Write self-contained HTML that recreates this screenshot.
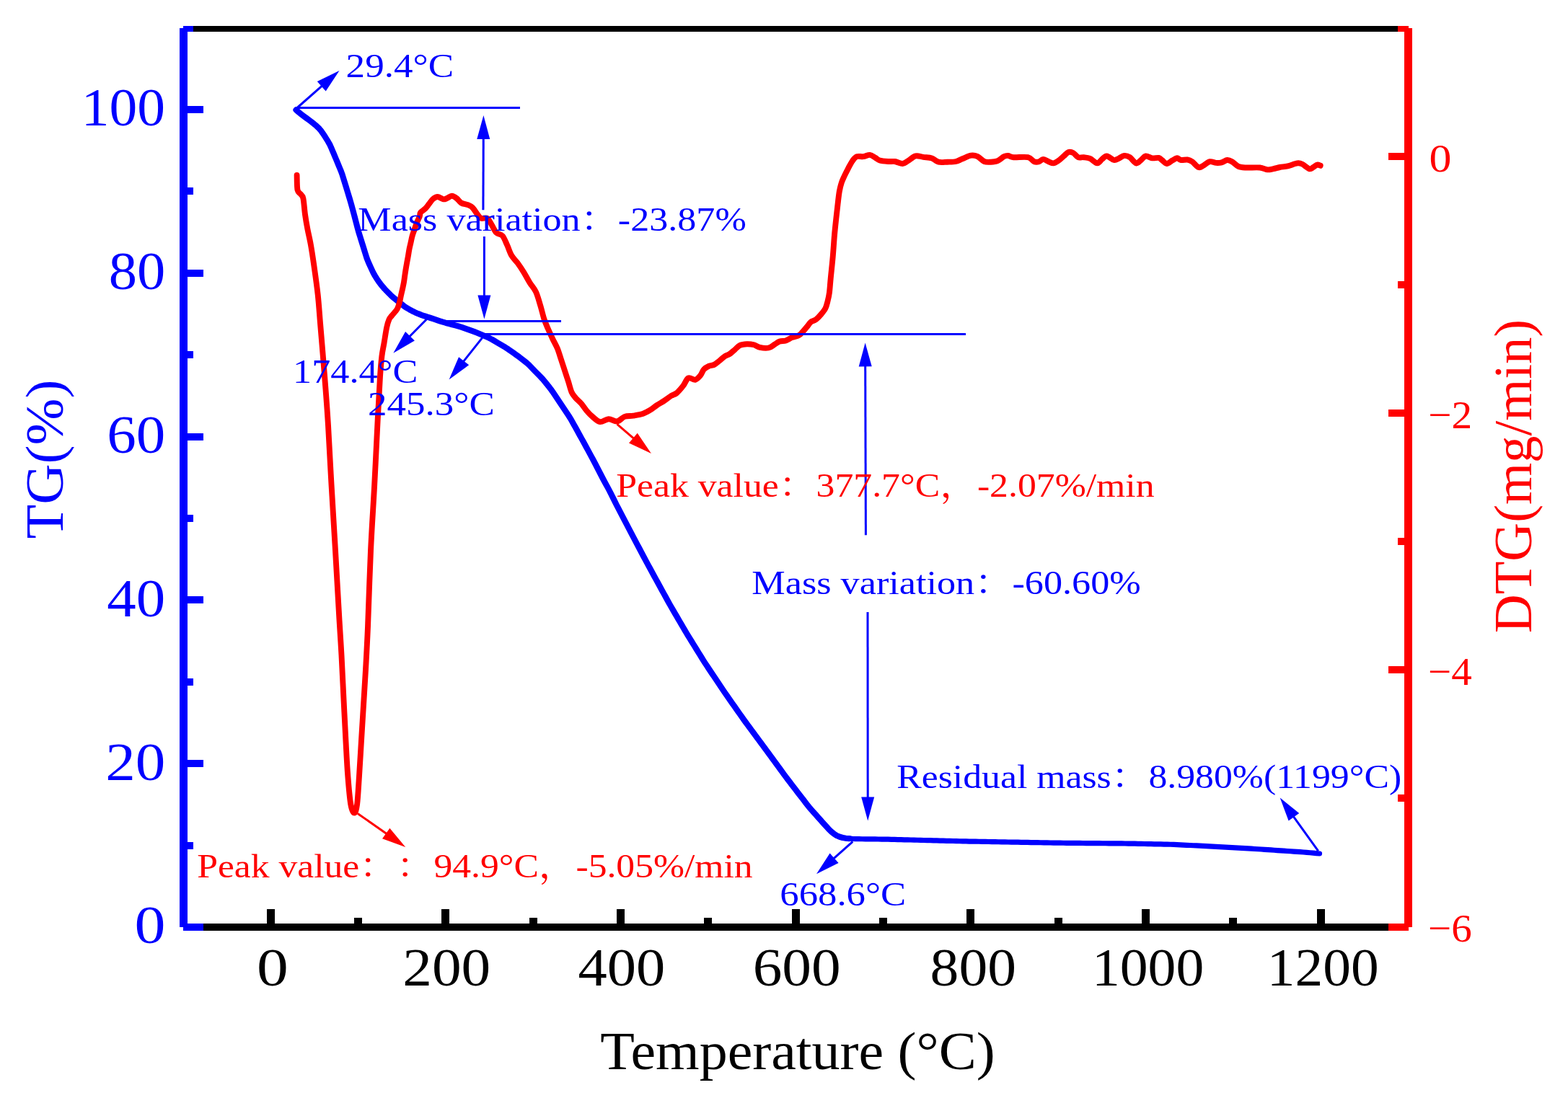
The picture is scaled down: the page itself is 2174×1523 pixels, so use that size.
<!DOCTYPE html>
<html lang="en"><head><meta charset="utf-8"><title>TG-DTG</title>
<style>
html,body{margin:0;padding:0;background:#ffffff;overflow:hidden;}
svg{display:block;text-spacing-trim:space-all;}
</style></head>
<body>
<svg width="2174" height="1523" viewBox="0 0 2174 1523">
<rect x="0" y="0" width="2174" height="1523" fill="#ffffff"/>
<g shape-rendering="crispEdges">
<rect x="249" y="39" width="11" height="1247" fill="#0000ff"/>
<rect x="1947" y="39" width="11" height="1247" fill="#ff0000"/>
<rect x="268" y="36" width="1670" height="8" fill="#000000"/>
<rect x="254" y="36" width="14" height="8" fill="#0000ff"/>
<rect x="1938" y="36" width="15" height="8" fill="#ff0000"/>
<rect x="282" y="1281" width="1643" height="10" fill="#000000"/>
<rect x="254" y="1281" width="28" height="10" fill="#0000ff"/>
<rect x="1925" y="1281" width="28" height="10" fill="#ff0000"/>
<rect x="370" y="1261" width="11" height="20" fill="#000000"/>
<rect x="491" y="1273" width="11" height="8" fill="#000000"/>
<rect x="612" y="1261" width="11" height="20" fill="#000000"/>
<rect x="734" y="1273" width="11" height="8" fill="#000000"/>
<rect x="855" y="1261" width="11" height="20" fill="#000000"/>
<rect x="976" y="1273" width="11" height="8" fill="#000000"/>
<rect x="1098" y="1261" width="11" height="20" fill="#000000"/>
<rect x="1219" y="1273" width="11" height="8" fill="#000000"/>
<rect x="1340" y="1261" width="11" height="20" fill="#000000"/>
<rect x="1462" y="1273" width="11" height="8" fill="#000000"/>
<rect x="1583" y="1261" width="11" height="20" fill="#000000"/>
<rect x="1704" y="1273" width="11" height="8" fill="#000000"/>
<rect x="1826" y="1261" width="11" height="20" fill="#000000"/>
<rect x="260" y="1168" width="8" height="10" fill="#0000ff"/>
<rect x="260" y="1054" width="22" height="10" fill="#0000ff"/>
<rect x="260" y="941" width="8" height="10" fill="#0000ff"/>
<rect x="260" y="827" width="22" height="10" fill="#0000ff"/>
<rect x="260" y="714" width="8" height="10" fill="#0000ff"/>
<rect x="260" y="601" width="22" height="10" fill="#0000ff"/>
<rect x="260" y="487" width="8" height="10" fill="#0000ff"/>
<rect x="260" y="374" width="22" height="10" fill="#0000ff"/>
<rect x="260" y="260" width="8" height="10" fill="#0000ff"/>
<rect x="260" y="147" width="22" height="10" fill="#0000ff"/>
<rect x="1925" y="212" width="22" height="10" fill="#ff0000"/>
<rect x="1938" y="390" width="9" height="10" fill="#ff0000"/>
<rect x="1925" y="568" width="22" height="10" fill="#ff0000"/>
<rect x="1938" y="746" width="9" height="10" fill="#ff0000"/>
<rect x="1925" y="924" width="22" height="10" fill="#ff0000"/>
<rect x="1938" y="1102" width="9" height="10" fill="#ff0000"/>
</g>
<path d="M1168.45,1162 L1172.86,1162.72 L1177.34,1163.11 L1181.83,1163.43 L1186.32,1163.61 L1190.82,1163.68 L1195.32,1163.74 L1199.82,1163.79 L1204.32,1163.84 L1208.82,1163.89 L1213.32,1163.94 L1217.83,1164 L1222.33,1164.05 L1226.83,1164.12 L1231.33,1164.21 L1235.83,1164.33 L1240.33,1164.44 L1244.83,1164.56 L1249.33,1164.67 L1253.83,1164.79 L1258.32,1164.9 L1262.82,1165.02 L1267.32,1165.13 L1271.82,1165.25 L1276.32,1165.36 L1280.82,1165.48 L1285.32,1165.59 L1289.82,1165.71 L1294.32,1165.82 L1298.82,1165.94 L1303.32,1166.05 L1307.82,1166.17 L1312.32,1166.28 L1316.82,1166.4 L1321.32,1166.51 L1325.82,1166.63 L1330.32,1166.74 L1334.82,1166.86 L1339.32,1166.95 L1343.82,1167.03 L1348.32,1167.11 L1352.82,1167.19 L1357.32,1167.27 L1361.82,1167.35 L1366.32,1167.43 L1370.82,1167.51 L1375.32,1167.59 L1379.82,1167.66 L1384.32,1167.74 L1388.82,1167.82 L1393.33,1167.9 L1397.83,1167.98 L1402.33,1168.06 L1406.83,1168.14 L1411.33,1168.22 L1415.83,1168.3 L1420.33,1168.38 L1424.83,1168.46 L1429.33,1168.53 L1433.83,1168.61 L1438.33,1168.69 L1442.83,1168.77 L1447.33,1168.85 L1451.83,1168.93 L1456.33,1169.01 L1460.83,1169.08 L1465.33,1169.14 L1469.83,1169.19 L1474.34,1169.23 L1478.84,1169.28 L1483.34,1169.33 L1487.84,1169.37 L1492.34,1169.42 L1496.84,1169.47 L1501.34,1169.51 L1505.84,1169.55 L1510.34,1169.58 L1514.84,1169.62 L1519.34,1169.65 L1523.85,1169.69 L1528.35,1169.73 L1532.85,1169.76 L1537.35,1169.8 L1541.85,1169.83 L1546.35,1169.87 L1550.85,1169.91 L1555.35,1169.94 L1559.85,1169.98 L1564.35,1170.04 L1568.85,1170.13 L1573.36,1170.22 L1577.86,1170.32 L1582.36,1170.41 L1586.86,1170.5 L1591.36,1170.6 L1595.86,1170.69 L1600.36,1170.79 L1604.86,1170.88 L1609.36,1170.97 L1613.86,1171.07 L1618.36,1171.16 L1622.86,1171.26 L1627.35,1171.42 L1631.85,1171.63 L1636.35,1171.86 L1640.84,1172.08 L1645.34,1172.3 L1649.83,1172.52 L1654.33,1172.75 L1658.82,1172.97 L1663.32,1173.19 L1667.82,1173.42 L1672.31,1173.64 L1676.81,1173.86 L1681.3,1174.08 L1685.8,1174.31 L1690.29,1174.56 L1694.79,1174.82 L1699.28,1175.09 L1703.77,1175.35 L1708.27,1175.62 L1712.76,1175.88 L1717.25,1176.15 L1721.75,1176.42 L1726.24,1176.68 L1730.73,1176.95 L1735.23,1177.21 L1739.72,1177.48 L1744.21,1177.75 L1748.71,1178.02 L1753.2,1178.31 L1757.69,1178.61 L1762.18,1178.92 L1766.67,1179.23 L1771.16,1179.54 L1775.65,1179.85 L1780.14,1180.16 L1784.63,1180.47 L1789.12,1180.77 L1793.61,1181.08 L1798.1,1181.39 L1802.59,1181.7 L1807.08,1182.01 L1811.57,1182.33 L1816.06,1182.72 L1820.54,1183.14 L1825.02,1183.57 L1829.5,1184" fill="none" stroke="#0000ff" stroke-width="7.2" stroke-linejoin="round" stroke-linecap="round"/>
<path d="M410.5,152.4 L413.86,155.39 L417.36,158.21 L420.95,160.93 L424.55,163.62 L428.17,166.3 L431.78,168.99 L435.32,171.77 L438.75,174.67 L442,177.78 L444.92,181.17 L447.51,184.84 L450,188.58 L452.42,192.38 L454.78,196.21 L457.02,200.1 L458.91,204.17 L460.66,208.32 L462.41,212.46 L464.17,216.61 L465.91,220.76 L467.65,224.91 L469.38,229.07 L471.1,233.22 L472.8,237.39 L474.35,241.61 L475.71,245.9 L477.04,250.2 L478.36,254.5 L479.68,258.81 L480.99,263.12 L482.29,267.42 L483.6,271.73 L484.9,276.04 L486.17,280.36 L487.38,284.69 L488.56,289.04 L489.74,293.38 L490.91,297.73 L492.06,302.08 L493.19,306.44 L494.31,310.79 L495.45,315.15 L496.62,319.5 L497.89,323.81 L499.23,328.11 L500.57,332.41 L501.9,336.7 L503.24,341 L504.56,345.31 L505.89,349.61 L507.22,353.91 L508.6,358.19 L510.23,362.38 L512.05,366.49 L513.92,370.58 L515.78,374.68 L517.72,378.73 L519.93,382.64 L522.33,386.45 L524.81,390.2 L527.49,393.81 L530.33,397.3 L533.27,400.7 L536.36,403.97 L539.5,407.19 L542.71,410.34 L546.1,413.29 L549.59,416.14 L553.09,418.96 L556.61,421.78 L560.17,424.52 L563.88,427.06 L567.76,429.33 L571.72,431.46 L575.76,433.43 L579.9,435.18 L584.09,436.82 L588.35,438.28 L592.64,439.63 L596.94,440.96 L601.22,442.35 L605.48,443.8 L609.73,445.27 L614.01,446.68 L618.33,447.93 L622.68,449.06 L627.04,450.2 L631.39,451.35 L635.73,452.54 L640.05,453.81 L644.31,455.26 L648.54,456.77 L652.78,458.3 L657.01,459.85 L661.19,461.5 L665.34,463.25 L669.48,465.01 L673.62,466.78 L677.74,468.59 L681.75,470.61 L685.64,472.86 L689.51,475.16 L693.38,477.47 L697.24,479.77 L701.09,482.1 L704.86,484.55 L708.56,487.12 L712.23,489.72 L715.91,492.32 L719.56,494.95 L723.14,497.67 L726.69,500.44 L730.2,503.25 L733.54,506.26 L736.64,509.5 L739.73,512.78 L742.87,516 L746.04,519.19 L749.21,522.39 L752.3,525.66 L755.21,529.09 L758.04,532.59 L760.86,536.1 L763.61,539.65 L766.2,543.33 L768.71,547.07 L771.21,550.81 L773.7,554.56 L776.2,558.3 L778.7,562.05 L781.2,565.79 L783.7,569.53 L786.2,573.27 L788.69,577.02 L791.09,580.83 L793.32,584.73 L795.51,588.67 L797.69,592.6 L799.88,596.54 L802.06,600.48 L804.23,604.42 L806.4,608.36 L808.57,612.31 L810.74,616.25 L812.9,620.2 L815.04,624.16 L817.18,628.12 L819.32,632.08 L821.46,636.04 L823.58,640.01 L825.66,644 L827.72,648 L829.79,652 L831.85,656 L833.91,660 L835.98,664 L838.1,667.97 L840.26,671.92 L842.42,675.87 L844.55,679.83 L846.6,683.84 L848.6,687.87 L850.59,691.91 L852.59,695.94 L854.61,699.97 L856.67,703.97 L858.74,707.96 L860.82,711.96 L862.89,715.95 L864.97,719.94 L867.06,723.93 L869.16,727.91 L871.25,731.9 L873.34,735.88 L875.43,739.87 L877.53,743.85 L879.63,747.83 L881.73,751.81 L883.83,755.8 L885.93,759.78 L888.03,763.76 L890.13,767.74 L892.23,771.72 L894.33,775.7 L896.45,779.68 L898.59,783.63 L900.75,787.58 L902.91,791.53 L905.06,795.48 L907.22,799.43 L909.38,803.38 L911.54,807.33 L913.71,811.28 L915.87,815.22 L918.04,819.17 L920.21,823.11 L922.38,827.06 L924.55,831 L926.72,834.94 L928.9,838.88 L931.14,842.79 L933.4,846.67 L935.68,850.56 L937.95,854.44 L940.22,858.33 L942.5,862.22 L944.77,866.1 L947.04,869.99 L949.31,873.87 L951.59,877.75 L953.91,881.61 L956.27,885.44 L958.65,889.27 L961.02,893.09 L963.39,896.92 L965.76,900.74 L968.13,904.57 L970.5,908.39 L972.88,912.22 L975.25,916.04 L977.65,919.85 L980.12,923.62 L982.61,927.36 L985.11,931.11 L987.61,934.85 L990.11,938.59 L992.61,942.34 L995.11,946.08 L997.61,949.82 L1000.11,953.57 L1002.61,957.31 L1005.14,961.03 L1007.72,964.72 L1010.3,968.4 L1012.89,972.09 L1015.48,975.77 L1018.07,979.45 L1020.65,983.14 L1023.24,986.82 L1025.83,990.5 L1028.42,994.19 L1031.01,997.87 L1033.64,1001.52 L1036.31,1005.14 L1038.98,1008.76 L1041.66,1012.38 L1044.34,1016 L1047.02,1019.62 L1049.69,1023.24 L1052.37,1026.85 L1055.05,1030.47 L1057.73,1034.09 L1060.4,1037.71 L1063.07,1041.33 L1065.73,1044.97 L1068.38,1048.6 L1071.03,1052.24 L1073.69,1055.87 L1076.34,1059.51 L1079,1063.15 L1081.65,1066.78 L1084.3,1070.42 L1086.96,1074.05 L1089.62,1077.68 L1092.31,1081.29 L1095.05,1084.86 L1097.79,1088.43 L1100.54,1092 L1103.28,1095.56 L1106.03,1099.13 L1108.78,1102.7 L1111.52,1106.26 L1114.27,1109.83 L1117.02,1113.4 L1119.77,1116.96 L1122.59,1120.46 L1125.54,1123.85 L1128.54,1127.22 L1131.53,1130.57 L1134.53,1133.93 L1137.53,1137.29 L1140.52,1140.65 L1143.52,1144.01 L1146.53,1147.35 L1149.57,1150.67 L1152.79,1153.79 L1156.3,1156.58 L1160.05,1158.99 L1164.15,1160.73 L1168.45,1162 L1172.86,1162.72 L1177.34,1163.11" fill="none" stroke="#0000ff" stroke-width="8.2" stroke-linejoin="round" stroke-linecap="round"/>
<path d="M411.6,243 C411.75,246.4 411.6,259 412.5,263.4 C413.4,267.8 415.68,267.42 417,269.4 C418.32,271.38 419.4,270.6 420.4,275.3 C421.4,280 422.02,290.6 423,297.6 C423.98,304.6 424.98,310.3 426.3,317.3 C427.62,324.3 429.37,330.92 430.9,339.6 C432.43,348.28 433.87,357.87 435.5,369.4 C437.13,380.93 439.28,395.67 440.7,408.8 C442.12,421.93 442.9,435.07 444,448.2 C445.1,461.33 446.05,472.3 447.3,487.6 C448.55,502.9 450.22,522.93 451.5,540 C452.78,557.07 453.67,568 455,590 C456.33,612 457.83,643 459.5,672 C461.17,701 463.17,732.67 465,764 C466.83,795.33 469.08,835.83 470.5,860 C471.92,884.17 472.52,891 473.5,909 C474.48,927 475.42,948.33 476.4,968 C477.38,987.67 478.42,1008.93 479.4,1027 C480.38,1045.07 481.15,1061.6 482.3,1076.4 C483.45,1091.2 484.82,1107.27 486.3,1115.8 C487.78,1124.33 489.73,1127.6 491.2,1127.6 C492.67,1127.6 493.97,1124.33 495.1,1115.8 C496.23,1107.27 497.02,1091.2 498,1076.4 C498.98,1061.6 500,1043.4 501,1027 C502,1010.6 503,994.37 504,978 C505,961.63 506,946.85 507,928.8 C508,910.75 508.83,897.17 510,869.7 C511.17,842.23 512.47,796.95 514,764 C515.53,731.05 517.57,702.67 519.2,672 C520.83,641.33 522.5,605 523.8,580 C525.1,555 526.07,536.33 527,522 C527.93,507.67 528.48,501.67 529.4,494 C530.32,486.33 531.37,482.67 532.5,476 C533.63,469.33 535.03,459.5 536.2,454 C537.37,448.5 538.32,445.7 539.5,443 C540.68,440.3 541.43,440.2 543.3,437.8 C545.17,435.4 548.93,431.67 550.7,428.6 C552.47,425.53 553.03,422.47 553.9,419.4 C554.77,416.33 555.22,413.27 555.9,410.2 C556.58,407.13 557.33,404.05 558,401 C558.67,397.95 559.37,394.95 559.9,391.9 C560.43,388.85 560.75,385.77 561.2,382.7 C561.65,379.63 562.1,376.57 562.6,373.5 C563.1,370.43 563.65,367.37 564.2,364.3 C564.75,361.23 565.37,358.17 565.9,355.1 C566.43,352.03 566.8,348.97 567.4,345.9 C568,342.83 568.82,339.75 569.5,336.7 C570.18,333.65 570.65,330.65 571.5,327.6 C572.35,324.55 573.55,321.47 574.6,318.4 C575.65,315.33 576.58,312.27 577.8,309.2 C579.02,306.13 581.03,302.42 581.9,300 C582.77,297.58 581.72,296.47 583,294.7 C584.28,292.93 587.62,291.38 589.6,289.4 C591.58,287.42 593.15,284.98 594.9,282.8 C596.65,280.62 598.13,277.93 600.1,276.3 C602.07,274.67 604.28,273 606.7,273 C609.12,273 612.42,275.97 614.6,276.3 C616.78,276.63 617.83,275.77 619.8,275 C621.77,274.23 624.2,271.7 626.4,271.7 C628.6,271.7 630.82,273.37 633,275 C635.18,276.63 636.88,279.97 639.5,281.5 C642.12,283.03 646.07,283.1 648.7,284.2 C651.33,285.3 653.1,285.92 655.3,288.1 C657.5,290.28 659.92,294.85 661.9,297.3 C663.88,299.75 664.92,301.88 667.2,302.8 C669.48,303.72 673.13,301.22 675.6,302.8 C678.07,304.38 679.9,308.97 682,312.3 C684.1,315.63 685.77,320.35 688.2,322.8 C690.63,325.25 694.13,324.2 696.6,327 C699.07,329.8 700.9,335.05 703,339.6 C705.1,344.15 706.77,350.1 709.2,354.3 C711.63,358.5 714.8,360.95 717.6,364.8 C720.4,368.65 723.18,372.85 726,377.4 C728.82,381.95 731.68,387.55 734.5,392.1 C737.32,396.65 740.45,399.45 742.9,404.7 C745.35,409.95 747.28,417.3 749.2,423.6 C751.12,429.9 752.65,437.13 754.4,442.5 C756.15,447.87 757.72,451.18 759.7,455.8 C761.68,460.42 764.12,465.62 766.3,470.2 C768.48,474.78 770.83,478.48 772.8,483.3 C774.77,488.12 776.35,493.83 778.1,499.1 C779.85,504.37 781.65,509.87 783.3,514.9 C784.95,519.93 786.47,524.48 788,529.3 C789.53,534.12 790.87,540.08 792.5,543.8 C794.13,547.52 795.6,548.98 797.8,551.6 C800,554.22 803.07,556.43 805.7,559.5 C808.33,562.57 810.98,566.93 813.6,570 C816.22,573.07 818.35,575.38 821.4,577.9 C824.45,580.42 828.17,584.55 831.9,585.1 C835.63,585.65 839.85,581.3 843.8,581.2 C847.75,581.1 851.88,585.05 855.6,584.5 C859.32,583.95 862.38,579.22 866.1,577.9 C869.82,576.58 873.75,577.25 877.9,576.6 C882.05,575.95 887.05,575.32 891,574 C894.95,572.68 898.32,570.68 901.6,568.7 C904.88,566.72 907.42,564.28 910.7,562.1 C913.98,559.92 918,557.78 921.3,555.6 C924.6,553.42 927.67,550.75 930.5,549 C933.33,547.25 935.52,547.4 938.3,545.1 C941.08,542.8 944.52,538.65 947.2,535.2 C949.88,531.75 951.62,525.8 954.4,524.4 C957.18,523 961.12,527.4 963.9,526.8 C966.68,526.2 969.1,523.2 971.1,520.8 C973.1,518.4 973.9,514.58 975.9,512.4 C977.9,510.22 980.72,508.78 983.1,507.7 C985.48,506.62 987.82,507.1 990.2,505.9 C992.58,504.7 995,502.4 997.4,500.5 C999.8,498.6 1002.2,496.1 1004.6,494.5 C1007,492.9 1009.42,492.5 1011.8,490.9 C1014.18,489.3 1016.52,486.9 1018.9,484.9 C1021.28,482.9 1023.3,480.18 1026.1,478.9 C1028.9,477.62 1032.5,477.3 1035.7,477.2 C1038.9,477.1 1042.32,477.52 1045.3,478.3 C1048.28,479.08 1050.22,481.2 1053.6,481.9 C1056.98,482.6 1062.2,483.18 1065.6,482.5 C1069,481.82 1071.42,479.28 1074,477.8 C1076.58,476.32 1078.52,474.5 1081.1,473.6 C1083.68,472.7 1086.7,473.3 1089.5,472.4 C1092.3,471.5 1094.92,469.4 1097.9,468.2 C1100.88,467 1105.02,466.4 1107.4,465.2 C1109.78,464 1110.2,463.1 1112.2,461 C1114.2,458.9 1117.4,455 1119.4,452.6 C1121.4,450.2 1122.2,448.18 1124.2,446.6 C1126.2,445.02 1129.02,444.88 1131.4,443.1 C1133.78,441.32 1136.32,438.5 1138.5,435.9 C1140.68,433.3 1143,430.5 1144.5,427.5 C1146,424.5 1146.6,421.48 1147.5,417.9 C1148.4,414.32 1149.2,411.27 1149.9,406 C1150.6,400.73 1150.9,394.62 1151.7,386.3 C1152.5,377.98 1153.82,366.17 1154.7,356.1 C1155.58,346.03 1156.23,334.72 1157,325.9 C1157.77,317.08 1158.55,310.25 1159.3,303.2 C1160.05,296.15 1160.75,289.88 1161.5,283.6 C1162.25,277.32 1162.92,270.53 1163.8,265.5 C1164.68,260.47 1165.67,256.92 1166.8,253.4 C1167.93,249.88 1169.08,247.67 1170.6,244.4 C1172.12,241.13 1174.02,237.33 1175.9,233.8 C1177.78,230.27 1179.9,225.97 1181.9,223.2 C1183.9,220.43 1185.38,218.2 1187.9,217.2 C1190.42,216.2 1193.97,217.58 1197,217.2 C1200.03,216.82 1203.33,214.65 1206.1,214.9 C1208.87,215.15 1211.33,217.43 1213.6,218.7 C1215.87,219.97 1216.68,221.62 1219.7,222.5 C1222.72,223.38 1228.18,223.75 1231.7,224 C1235.22,224.25 1237.52,223.5 1240.8,224 C1244.08,224.5 1248.38,227.13 1251.4,227 C1254.42,226.87 1255.88,224.97 1258.9,223.2 C1261.92,221.43 1265.98,217.28 1269.5,216.4 C1273.02,215.52 1276.23,217.4 1280,217.9 C1283.77,218.4 1288.57,218.27 1292.1,219.4 C1295.63,220.53 1297.67,223.82 1301.2,224.7 C1304.73,225.58 1309.28,224.82 1313.3,224.7 C1317.32,224.58 1321.78,224.75 1325.3,224 C1328.82,223.25 1330.87,221.58 1334.4,220.2 C1337.93,218.82 1342.98,216.2 1346.5,215.7 C1350.02,215.2 1352.48,215.82 1355.5,217.2 C1358.52,218.58 1361.57,222.75 1364.6,224 C1367.63,225.25 1370.6,224.85 1373.7,224.7 C1376.8,224.55 1380.13,224.38 1383.2,223.1 C1386.27,221.82 1389.7,218.2 1392.1,217 C1394.5,215.8 1395.4,215.7 1397.6,215.9 C1399.8,216.1 1400.7,217.82 1405.3,218.2 C1409.9,218.58 1420.42,217.2 1425.2,218.2 C1429.98,219.2 1431.42,223.2 1434,224.2 C1436.58,225.2 1438.67,224.75 1440.7,224.2 C1442.73,223.65 1444,220.9 1446.2,220.9 C1448.4,220.9 1451.52,223.28 1453.9,224.2 C1456.28,225.12 1458.28,226.58 1460.5,226.4 C1462.72,226.22 1464.8,224.75 1467.2,223.1 C1469.6,221.45 1472.52,218.52 1474.9,216.5 C1477.28,214.48 1479.3,211.73 1481.5,211 C1483.7,210.27 1485.88,210.9 1488.1,212.1 C1490.32,213.3 1492.4,217.18 1494.8,218.2 C1497.2,219.22 1499.75,217.93 1502.5,218.2 C1505.25,218.47 1508.18,218.43 1511.3,219.8 C1514.42,221.17 1518.43,226.22 1521.2,226.4 C1523.97,226.58 1525.68,222.55 1527.9,220.9 C1530.12,219.25 1531.75,216.32 1534.5,216.5 C1537.25,216.68 1541.63,221.45 1544.4,222 C1547.17,222.55 1548.7,220.82 1551.1,219.8 C1553.5,218.78 1556.23,216.17 1558.8,215.9 C1561.37,215.63 1563.75,216.45 1566.5,218.2 C1569.25,219.95 1572.72,225.77 1575.3,226.4 C1577.88,227.03 1579.78,223.65 1582,222 C1584.22,220.35 1586.03,216.95 1588.6,216.5 C1591.17,216.05 1594.4,218.9 1597.4,219.3 C1600.4,219.7 1604.33,218.45 1606.6,218.9 C1608.87,219.35 1609.15,220.65 1611,222 C1612.85,223.35 1615.3,226.9 1617.7,227 C1620.1,227.1 1623.02,223.88 1625.4,222.6 C1627.78,221.32 1629.98,219.4 1632,219.3 C1634.02,219.2 1635.1,221.63 1637.5,222 C1639.9,222.37 1643.82,221.13 1646.4,221.5 C1648.98,221.87 1650.43,222.45 1653,224.2 C1655.57,225.95 1659.23,231.08 1661.8,232 C1664.37,232.92 1665.82,231 1668.4,229.7 C1670.98,228.4 1674.35,224.83 1677.3,224.2 C1680.25,223.57 1683.35,225.72 1686.1,225.9 C1688.85,226.08 1691.22,225.95 1693.8,225.3 C1696.38,224.65 1699.2,222.18 1701.6,222 C1704,221.82 1705.63,222.73 1708.2,224.2 C1710.77,225.67 1713.87,229.42 1717,230.8 C1720.13,232.18 1722.03,232.22 1727,232.5 C1731.97,232.78 1741.83,232.03 1746.8,232.5 C1751.77,232.97 1753.67,235.02 1756.8,235.3 C1759.93,235.58 1762.67,234.75 1765.6,234.2 C1768.53,233.65 1771.08,232.65 1774.4,232 C1777.72,231.35 1781.45,231.23 1785.5,230.3 C1789.55,229.37 1795.4,226.87 1798.7,226.4 C1802,225.93 1802.53,226.2 1805.3,227.5 C1808.07,228.8 1812.72,233.45 1815.3,234.2 C1817.88,234.95 1818.97,232.93 1820.8,232 C1822.63,231.07 1824.65,228.98 1826.3,228.6 C1827.95,228.22 1829.97,229.52 1830.7,229.7" fill="none" stroke="#ff0000" stroke-width="7.9" stroke-linejoin="round" stroke-linecap="round"/>
<g>
<line x1="412" y1="149.5" x2="721" y2="149.5" stroke="#0000ff" stroke-width="3"/>
<line x1="612" y1="445.4" x2="778" y2="445.4" stroke="#0000ff" stroke-width="3"/>
<line x1="671" y1="463.5" x2="1339" y2="463.5" stroke="#0000ff" stroke-width="3"/>
<line x1="412" y1="149.5" x2="448.73" y2="117.16" stroke="#0000ff" stroke-width="3"/>
<polygon points="470.5,98 451.68,126.56 439.78,113.05" fill="#0000ff"/>
<line x1="669.9" y1="291.3" x2="670.29" y2="189" stroke="#0000ff" stroke-width="3"/>
<polygon points="670.4,160 679.27,193.03 661.27,192.97" fill="#0000ff"/>
<line x1="671.4" y1="328" x2="671.4" y2="413.5" stroke="#0000ff" stroke-width="3"/>
<polygon points="671.4,442.5 662.4,409.5 680.4,409.5" fill="#0000ff"/>
<line x1="592.3" y1="442" x2="565.65" y2="469.04" stroke="#0000ff" stroke-width="3"/>
<polygon points="545.3,489.7 562.05,459.88 574.87,472.51" fill="#0000ff"/>
<line x1="668.6" y1="468.6" x2="640.62" y2="503.88" stroke="#0000ff" stroke-width="3"/>
<polygon points="622.6,526.6 636.05,495.15 650.16,506.34" fill="#0000ff"/>
<line x1="1200.4" y1="742.3" x2="1199.69" y2="504.4" stroke="#0000ff" stroke-width="3"/>
<polygon points="1199.6,475.4 1208.7,508.37 1190.7,508.43" fill="#0000ff"/>
<line x1="1203" y1="849" x2="1203.18" y2="1109.6" stroke="#0000ff" stroke-width="3"/>
<polygon points="1203.2,1138.6 1194.18,1105.61 1212.18,1105.59" fill="#0000ff"/>
<line x1="1182.3" y1="1167.3" x2="1153.61" y2="1192.96" stroke="#0000ff" stroke-width="3"/>
<polygon points="1132,1212.3 1150.59,1183.59 1162.6,1197" fill="#0000ff"/>
<line x1="1827.7" y1="1180.4" x2="1791.6" y2="1130.07" stroke="#0000ff" stroke-width="3"/>
<polygon points="1774.7,1106.5 1801.25,1128.07 1786.62,1138.56" fill="#0000ff"/>
<line x1="496" y1="1128.4" x2="538.49" y2="1158.31" stroke="#ff0000" stroke-width="3"/>
<polygon points="562.2,1175 530.03,1163.36 540.4,1148.65" fill="#ff0000"/>
<line x1="855.6" y1="588.4" x2="880.92" y2="610.18" stroke="#ff0000" stroke-width="3"/>
<polygon points="902.9,629.1 872.02,614.4 883.76,600.75" fill="#ff0000"/>
</g>
<g font-family='"Liberation Serif", "Noto Serif CJK SC", serif'>
<text transform="translate(112.82,174.3) scale(1.0461,1)" font-size="74.1" fill="#0000ff">100</text>
<text transform="translate(150.66,401.1) scale(1.0591,1)" font-size="74.1" fill="#0000ff">80</text>
<text transform="translate(148.15,627.9) scale(1.0944,1)" font-size="74.1" fill="#0000ff">60</text>
<text transform="translate(148.28,854.7) scale(1.0925,1)" font-size="74.1" fill="#0000ff">40</text>
<text transform="translate(146.16,1081.5) scale(1.1224,1)" font-size="74.1" fill="#0000ff">20</text>
<text transform="translate(186.56,1308.3) scale(1.1600,1)" font-size="74.1" fill="#0000ff">0</text>
<text transform="translate(356,1367.2) scale(1.1714,1)" font-size="74.8" fill="#000000">0</text>
<text transform="translate(558.24,1367.2) scale(1.0875,1)" font-size="74.8" fill="#000000">200</text>
<text transform="translate(801.39,1367.2) scale(1.0769,1)" font-size="74.8" fill="#000000">400</text>
<text transform="translate(1043.64,1367.2) scale(1.0875,1)" font-size="74.8" fill="#000000">600</text>
<text transform="translate(1289.62,1367.2) scale(1.0639,1)" font-size="74.8" fill="#000000">800</text>
<text transform="translate(1513.91,1367.2) scale(1.0388,1)" font-size="74.8" fill="#000000">1000</text>
<text transform="translate(1756.73,1367.2) scale(1.0359,1)" font-size="74.8" fill="#000000">1200</text>
<text transform="translate(1981.52,238) scale(1.1359,1)" font-size="54.5" fill="#ff0000">0</text>
<text transform="translate(1980.14,594) scale(1.0512,1)" font-size="54.5" fill="#ff0000">−2</text>
<text transform="translate(1980.05,950) scale(1.0477,1)" font-size="54.5" fill="#ff0000">−4</text>
<text transform="translate(1980.05,1306) scale(1.0469,1)" font-size="54.5" fill="#ff0000">−6</text>
<text transform="translate(832.34,1482.9) scale(1.0636,1)" font-size="73.3" fill="#000000">Temperature (°C)</text>
<text transform="translate(87,747.56) rotate(-90) scale(1.0639,1)" font-size="73.4" fill="#0000ff">TG(%)</text>
<text transform="translate(2123.1,878.24) rotate(-90) scale(1.0171,1)" font-size="73.4" fill="#ff0000">DTG(mg/min)</text>
<text transform="translate(479.61,106.9) scale(1.1229,1)" font-size="47.3" fill="#0000ff">29.4°C</text>
<text transform="translate(406.1,531) scale(1.1038,1)" font-size="47.3" fill="#0000ff">174.4°C</text>
<text transform="translate(510.11,576) scale(1.1205,1)" font-size="47.3" fill="#0000ff">245.3°C</text>
<text transform="translate(1081.33,1256.3) scale(1.1146,1)" font-size="47.3" fill="#0000ff">668.6°C</text>
<text transform="translate(496.34,319.9) scale(1.1021,1)" font-size="47.3" fill="#0000ff">Mass variation：-23.87%</text>
<text transform="translate(1042.33,824) scale(1.1041,1)" font-size="47.3" fill="#0000ff">Mass variation：-60.60%</text>
<text transform="translate(1243.25,1092.8) scale(1.0939,1)" font-size="47.3" fill="#0000ff">Residual mass：8.980%(1199°C)</text>
<text transform="translate(854.25,688.9) scale(1.0941,1)" font-size="47.3" fill="#ff0000">Peak value：377.7°C，-2.07%/min</text>
<text transform="translate(273.25,1216.9) scale(1.0913,1)" font-size="47.3" fill="#ff0000">Peak value：：94.9°C，-5.05%/min</text>
</g>
</svg>
</body></html>
